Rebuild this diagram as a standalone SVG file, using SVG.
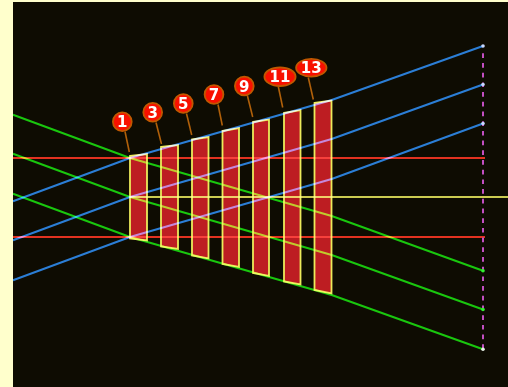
<svg xmlns="http://www.w3.org/2000/svg" width="508" height="387" viewBox="0 0 508 387">
<style>
.ln{fill:none;mix-blend-mode:screen;stroke-linejoin:round}
.blue{stroke:#1f78d6;stroke-width:2}
.green{stroke:#0cc40c;stroke-width:2}
.red{stroke:#e0281e;stroke-width:1.8}
.yel{stroke:#c8c850;stroke-width:1.8}
.bar{fill:#bd1d22;stroke:#ecea5a;stroke-width:1.8;stroke-linejoin:miter}
.lead{stroke:#b0600a;stroke-width:1.6;fill:none}
.bdg{fill:#f81000;stroke:#c05800;stroke-width:1.8}
.num{fill:#ffffff;font-family:"DejaVu Sans",Verdana,sans-serif;font-weight:bold;font-size:15px;text-anchor:middle}
</style>
<rect x="0" y="0" width="508" height="387" fill="#ffffcc"/>
<rect x="13" y="2" width="495" height="385" fill="#0e0c02"/>

<g id="bar1"><polygon class="bar" points="130,156 147,154 147,240.5 130,238.5"/></g>
<g id="bar3"><polygon class="bar" points="161,147 178,145 178,249 161,246.5"/></g>
<g id="bar5"><polygon class="bar" points="192,139.5 208.5,137 208.5,258.5 192,255.5"/></g>
<g id="bar7"><polygon class="bar" points="222.5,131 239,128 239,267 222.5,264"/></g>
<g id="bar9"><polygon class="bar" points="253,122 269,119.5 269,276 253,273"/></g>
<g id="bar11"><polygon class="bar" points="284,113 300.5,110 300.5,284.5 284,281.5"/></g>
<g id="bar13"><polygon class="bar" points="314.5,103 331.5,100.5 331.5,293.5 314.5,290"/></g>

<g id="connectors">
<line class="ln red" x1="13" y1="158" x2="485" y2="158"/>
<line class="ln red" x1="13" y1="237" x2="485" y2="237"/>
<line class="ln yel" x1="130" y1="197" x2="508" y2="197"/>
<polyline class="ln blue" points="13,201.3 130,158 331.7,100 483,46"/>
<polyline class="ln blue" points="13,240.3 130,197 331.7,139 483,84.5"/>
<polyline class="ln blue" points="13,280.3 130,237 331.7,179 483,123.5"/>
<polyline class="ln green" points="13,114.7 130,158 331.7,216 483,270.8"/>
<polyline class="ln green" points="13,153.7 130,197 331.7,255 483,309.5"/>
<polyline class="ln green" points="13,193.7 130,237 331.7,295 483,349.3"/>
<line x1="483" y1="53.3" x2="483" y2="350" stroke="#c24fc2" stroke-width="2" stroke-dasharray="4.7 5"/>
<circle cx="483" cy="46" r="1.8" fill="#c8d8ff"/>
<circle cx="483" cy="84.5" r="1.8" fill="#c8d8ff"/>
<circle cx="483" cy="123.5" r="1.8" fill="#c8d8ff"/>
<circle cx="483" cy="270.8" r="1.8" fill="#30f030"/>
<circle cx="483" cy="309.5" r="1.8" fill="#30f030"/>
<circle cx="483" cy="349.3" r="1.8" fill="#e8f0e8"/>
<line class="lead" x1="125" y1="131.5" x2="129.3" y2="152"/>
<line class="lead" x1="156" y1="122.5" x2="161.5" y2="144"/>
<line class="lead" x1="186.5" y1="113.5" x2="191.7" y2="135"/>
<line class="lead" x1="218" y1="104.5" x2="222.3" y2="125.5"/>
<line class="lead" x1="247.5" y1="96" x2="252.7" y2="117"/>
<line class="lead" x1="278.3" y1="86.5" x2="282.7" y2="107.5"/>
<line class="lead" x1="308.3" y1="77.5" x2="313.3" y2="99.5"/>
</g>

<g id="label1"><ellipse class="bdg" cx="122.3" cy="121.7" rx="9.4" ry="9.4"/><text class="num" x="122.3" y="127.2">1</text></g>
<g id="label3"><ellipse class="bdg" cx="152.7" cy="112.3" rx="9.4" ry="9.4"/><text class="num" x="152.7" y="117.8">3</text></g>
<g id="label5"><ellipse class="bdg" cx="183.3" cy="103.5" rx="9.4" ry="9.4"/><text class="num" x="183.3" y="109">5</text></g>
<g id="label7"><ellipse class="bdg" cx="214" cy="94.5" rx="9.4" ry="9.4"/><text class="num" x="214" y="100">7</text></g>
<g id="label9"><ellipse class="bdg" cx="244.3" cy="86" rx="9.4" ry="9.4"/><text class="num" x="244.3" y="91.5">9</text></g>
<g id="label11"><ellipse class="bdg" cx="280" cy="76.7" rx="15.6" ry="9.3"/><text class="num" x="280" y="82.2">11</text></g>
<g id="label13"><ellipse class="bdg" cx="311.3" cy="67.8" rx="15.2" ry="8.9"/><text class="num" x="311.3" y="73.3">13</text></g>
</svg>
